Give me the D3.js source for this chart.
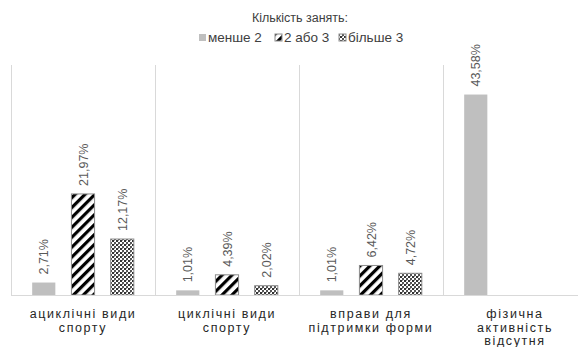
<!DOCTYPE html>
<html>
<head>
<meta charset="utf-8">
<script src="https://cdn.jsdelivr.net/npm/d3@7"></script>
<style>
  body { margin: 0; background: #fff; }
  svg { font-family: "Liberation Sans", Arial, sans-serif; }
</style>
</head>
<body>
<div id="chart"></div>
<script>
// data
const categories = [
  ["ациклічні види", "спорту"],
  ["циклічні види", "спорту"],
  ["вправи для", "підтримки форми"],
  ["фізична", "активність", "відсутня"]
];
const seriesNames = ["менше 2", "2 або 3", "більше 3"];
const lessThan2 = [2.71, 1.01, 1.01, 43.58];
const twoOrThree = [21.97, 4.39, 6.42, null];
const moreThan3 = [12.17, 2.02, 4.72, null];
const series = [lessThan2, twoOrThree, moreThan3];

const width = 578, height = 347;
const margin = { top: 65, right: -9, bottom: 52, left: 11 };

const svg = d3.select("#chart").append("svg")
  .attr("width", width)
  .attr("height", height);

// patterns
const defs = svg.append("defs");
const hatch = defs.append("pattern")
  .attr("id", "hatch")
  .attr("patternUnits", "userSpaceOnUse")
  .attr("width", 7).attr("height", 7)
  .attr("patternTransform", "rotate(45)");
hatch.append("rect").attr("width", 7).attr("height", 7).attr("fill", "#fff");
hatch.append("rect").attr("x", 0).attr("width", 3.2).attr("height", 7).attr("fill", "#000");

const dots = defs.append("pattern")
  .attr("id", "dots")
  .attr("patternUnits", "userSpaceOnUse")
  .attr("width", 4).attr("height", 4);
dots.append("rect").attr("width", 4).attr("height", 4).attr("fill", "#fff");
dots.append("rect").attr("width", 2).attr("height", 2).attr("fill", "#333");
dots.append("rect").attr("x", 2).attr("y", 2).attr("width", 2).attr("height", 2).attr("fill", "#555");
dots.append("rect").attr("x", 2).attr("y", 0).attr("width", 1).attr("height", 1).attr("fill", "#999");

const fills = ["#bfbfbf", "url(#hatch)", "url(#dots)"];
const strokes = ["none", "#8c8c8c", "#8c8c8c"];

// scales
const x0 = d3.scaleBand()
  .domain(d3.range(categories.length))
  .range([margin.left, width - margin.right])
  .paddingInner(0).paddingOuter(0);

const x1 = d3.scaleBand()
  .domain(d3.range(series.length))
  .range([0, x0.bandwidth()])
  .paddingInner(0.41).paddingOuter(0.54);

const y = d3.scaleLinear()
  .domain([0, 50])
  .range([height - margin.bottom, margin.top]);

// separators
const g = svg.append("g");
x0.domain().forEach(i => {
  g.append("line")
    .attr("x1", x0(i) + 0.5).attr("x2", x0(i) + 0.5)
    .attr("y1", y(50)).attr("y2", y(0))
    .attr("stroke", "#d9d9d9").attr("stroke-width", 1);
});

// bars
series.forEach((vals, s) => {
  const bars = g.selectAll(".bar-" + s)
    .data(vals.map((v, i) => ({ v, i })).filter(d => d.v != null))
    .enter();
  bars.append("rect")
    .attr("x", d => x0(d.i) + x1(s))
    .attr("y", d => y(d.v))
    .attr("width", x1.bandwidth())
    .attr("height", d => y(0) - y(d.v))
    .attr("fill", fills[s])
    .attr("stroke", strokes[s])
    .attr("stroke-width", 1);
  bars.append("text")
    .attr("transform", d => `translate(${x0(d.i) + x1(s) + x1.bandwidth() / 2 + 4.5},${y(d.v) - 8}) rotate(-90)`)
    .attr("font-size", 12.5)
    .attr("fill", "#595959")
    .text(d => d.v.toFixed(2).replace(".", ",") + "%");
});

// baseline
g.append("line")
  .attr("x1", margin.left).attr("x2", width)
  .attr("y1", y(0) + 0.5).attr("y2", y(0) + 0.5)
  .attr("stroke", "#d9d9d9");

// category labels
categories.forEach((lines, i) => {
  const t = svg.append("text")
    .attr("text-anchor", "middle")
    .attr("font-size", 12.5)
    .attr("letter-spacing", 1.6)
    .attr("fill", "#262626");
  lines.forEach((ln, k) => {
    t.append("tspan")
      .attr("x", x0(i) + x0.bandwidth() / 2)
      .attr("y", 318 + k * 13.5)
      .text(ln);
  });
});

// legend
svg.append("text")
  .attr("x", 300).attr("y", 22)
  .attr("text-anchor", "middle")
  .attr("font-size", 12.5)
  .attr("fill", "#404040")
  .text("Кількість занять:");

const legendX = [199, 275, 339];
seriesNames.forEach((name, s) => {
  svg.append("rect")
    .attr("x", legendX[s]).attr("y", 34)
    .attr("width", 7).attr("height", 7)
    .attr("fill", fills[s])
    .attr("stroke", strokes[s]);
  svg.append("text")
    .attr("x", legendX[s] + 9).attr("y", 42)
    .attr("font-size", 13.5)
    .attr("fill", "#404040")
    .text(name);
});
</script>
</body>
</html>
